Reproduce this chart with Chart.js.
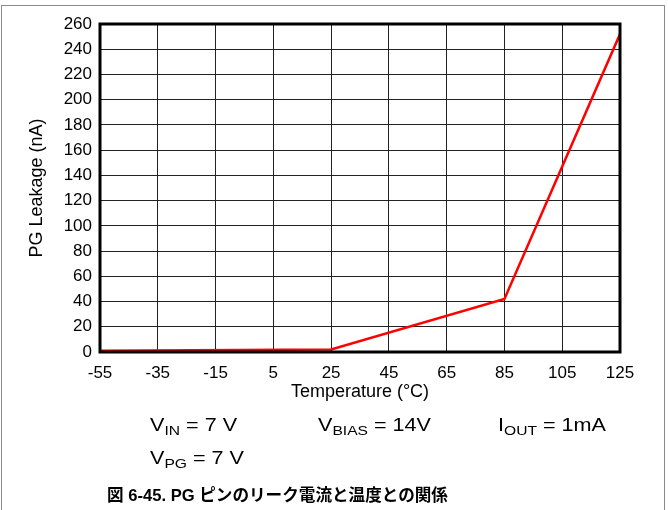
<!DOCTYPE html>
<html>
<head>
<meta charset="utf-8">
<script src="https://cdn.jsdelivr.net/npm/chart.js@4"></script>
<style>
  body { margin: 0; background: #fff; font-family: "Liberation Sans", Arial, sans-serif; }
  #wrap { position: relative; width: 668px; height: 510px; overflow: hidden; }
  #frame { position: absolute; left: 1px; top: 5px; width: 662px; height: 520px; border: 1px solid #8a8a8a; }
  #chartBox { position: absolute; left: 0; top: 0; width: 668px; height: 510px; }
  .note { position: absolute; font-size: 18px; color: #000; white-space: nowrap;
    transform: scaleX(1.2); transform-origin: left top; }
  .note sub { font-size: 13px; vertical-align: -4px; }
  #caption { position: absolute; left: 107px; top: 482px; font-size: 16.6px; font-weight: bold;
    font-family: "Liberation Sans", "Noto Sans CJK JP", sans-serif; white-space: nowrap; }
</style>
</head>
<body>
<div id="wrap">
  <div id="frame"></div>
  <div id="chartBox"><canvas id="leakChart" width="668" height="510"></canvas></div>
  <div class="note" style="left:150px; top:415px;">V<sub>IN</sub> = 7 V</div>
  <div class="note" style="left:318px; top:415px;">V<sub>BIAS</sub> = 14V</div>
  <div class="note" style="left:498px; top:415px;">I<sub>OUT</sub> = 1mA</div>
  <div class="note" style="left:150px; top:448px;">V<sub>PG</sub> = 7 V</div>
  <div id="caption">図 6-45. PG ピンのリーク電流と温度との関係</div>
</div>
<script>
const temperatures = [-55, 25, 85, 125];
const leakage = [1, 2, 42, 252];
const xTickValues = [-55, -35, -15, 5, 25, 45, 65, 85, 105, 125];
const yTickValues = [0, 20, 40, 60, 80, 100, 120, 140, 160, 180, 200, 220, 240, 260];

const plotBorder = {
  id: "plotBorder",
  afterDraw(chart) {
    const { ctx, chartArea: a } = chart;
    ctx.save();
    ctx.strokeStyle = "#000";
    ctx.lineWidth = 3;
    ctx.strokeRect(a.left, a.top, a.right - a.left, a.bottom - a.top);
    ctx.restore();
  },
};

const tickFont = { family: "'Liberation Sans', Arial, sans-serif", size: 17 };
const titleFont = { family: "'Liberation Sans', Arial, sans-serif", size: 18 };

new Chart(document.getElementById("leakChart"), {
  type: "line",
  data: {
    datasets: [
      {
        data: temperatures.map((t, i) => ({ x: t, y: leakage[i] })),
        borderColor: "#ff0000",
        borderWidth: 2.5,
        pointRadius: 0,
        tension: 0,
      },
    ],
  },
  options: {
    responsive: false,
    animation: false,
    devicePixelRatio: 1,
    layout: { padding: { top: 24, left: 0, right: 48, bottom: 107 } },
    plugins: { legend: { display: false }, tooltip: { enabled: false } },
    scales: {
      x: {
        type: "linear",
        min: -55,
        max: 125,
        afterBuildTicks: (axis) => {
          axis.ticks = xTickValues.map((v) => ({ value: v }));
        },
        afterFit: (s) => { s.height = 51; },
        grid: { color: "#222", lineWidth: 1, drawTicks: false },
        border: { display: false },
        ticks: { color: "#000", font: tickFont, padding: 11, maxRotation: 0, autoSkip: false },
        title: {
          display: true,
          text: "Temperature (°C)",
          color: "#000",
          font: titleFont,
          padding: { top: 0, bottom: 0 },
        },
      },
      y: {
        min: 0,
        max: 260,
        afterBuildTicks: (axis) => {
          axis.ticks = yTickValues.map((v) => ({ value: v }));
        },
        afterFit: (s) => { s.width = 100; },
        grid: { color: "#222", lineWidth: 1, drawTicks: false },
        border: { display: false },
        ticks: { color: "#000", font: tickFont, padding: 8, autoSkip: false },
        title: {
          display: true,
          text: "PG Leakage (nA)",
          color: "#000",
          font: titleFont,
          padding: { top: 26, bottom: 0 },
        },
      },
    },
  },
  plugins: [plotBorder],
});
</script>
</body>
</html>
